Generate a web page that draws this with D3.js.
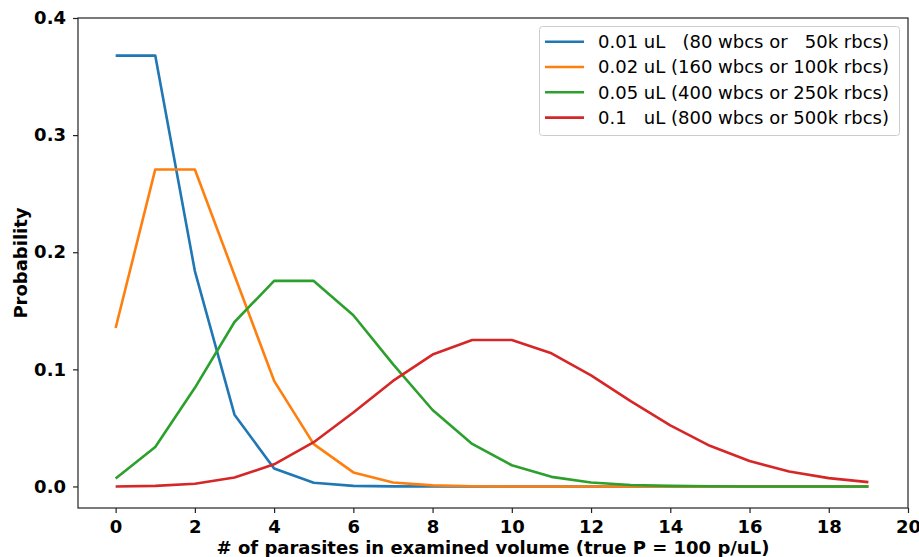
<!DOCTYPE html>
<html><head><meta charset="utf-8">
<script src="https://cdn.jsdelivr.net/npm/d3@7"></script>
<style>
html,body{margin:0;padding:0;background:#fff;}
svg text{font-family:"DejaVu Sans",sans-serif;}
</style></head>
<body><svg id="chart" width="919" height="557"></svg>
<script>
const xValues = [0,1,2,3,4,5,6,7,8,9,10,11,12,13,14,15,16,17,18,19];
const seriesNames = [
  "0.01 uL   (80 wbcs or   50k rbcs)",
  "0.02 uL (160 wbcs or 100k rbcs)",
  "0.05 uL (400 wbcs or 250k rbcs)",
  "0.1   uL (800 wbcs or 500k rbcs)"
];
const vol001 = [0.3679,0.3679,0.1839,0.0613,0.0153,0.0031,0.0005,0.0001,0,0,0,0,0,0,0,0,0,0,0,0];
const vol002 = [0.1353,0.2707,0.2707,0.1804,0.0902,0.0361,0.0120,0.0034,0.0009,0.0002,0,0,0,0,0,0,0,0,0,0];
const vol005 = [0.0067,0.0337,0.0842,0.1404,0.1755,0.1755,0.1462,0.1044,0.0653,0.0363,0.0181,0.0082,0.0034,0.0013,0.0005,0.0002,0,0,0,0];
const vol01  = [0.0000,0.0005,0.0023,0.0076,0.0189,0.0378,0.0631,0.0901,0.1126,0.1251,0.1251,0.1137,0.0948,0.0729,0.0521,0.0347,0.0217,0.0128,0.0071,0.0037];
const colors = ["#1f77b4","#ff7f0e","#2ca02c","#d62728"];
const xTicks = [0,2,4,6,8,10,12,14,16,18,20];
const yTicks = [0.0,0.1,0.2,0.3,0.4];
const xLabel = "# of parasites in examined volume (true P = 100 p/uL)";
const yLabel = "Probability";

const series = [vol001, vol002, vol005, vol01];
const L = 78, R = 908, T = 18, B = 508;
const FS = 18;
const svg = d3.select("#chart");
const x = d3.scaleLinear().domain([-0.95, 20]).range([L, R]);
const y = d3.scaleLinear().domain([-0.0184, 0.4]).range([B, T]);

const xAxis = svg.append("g").attr("transform",`translate(0,${B})`)
  .call(d3.axisBottom(x).tickValues(xTicks).tickFormat(d3.format("d")).tickSize(5).tickPadding(7));
const yAxis = svg.append("g").attr("transform",`translate(${L},0)`)
  .call(d3.axisLeft(y).tickValues(yTicks).tickFormat(d3.format(".1f")).tickSize(5).tickPadding(7));
[xAxis,yAxis].forEach(a=>{
  a.select(".domain").remove();
  a.selectAll("line").attr("stroke","#222").attr("stroke-width",1.2);
  a.selectAll("text").attr("font-size",FS).attr("font-weight","bold").attr("fill","#000")
    .style("font-family","'DejaVu Sans',sans-serif");
});

const line = d3.line().x((d,i)=>x(xValues[i])).y(d=>y(d));
series.forEach((s,k)=>{
  svg.append("path").datum(s).attr("d",line).attr("fill","none")
    .attr("stroke",colors[k]).attr("stroke-width",2.6).attr("stroke-linejoin","round");
});

svg.append("rect").attr("x",L).attr("y",T).attr("width",R-L).attr("height",B-T)
  .attr("fill","none").attr("stroke","#222").attr("stroke-width",1.2);

svg.append("text").attr("x",(L+R)/2).attr("y",553.5).attr("text-anchor","middle")
  .attr("font-size",FS).attr("font-weight","bold").text(xLabel);
svg.append("text").attr("transform",`translate(27,${(T+B)/2}) rotate(-90)`).attr("text-anchor","middle")
  .attr("font-size",FS).attr("font-weight","bold").text(yLabel);

// legend
const lg = svg.append("g");
lg.append("rect").attr("x",539.5).attr("y",26.5).attr("width",360).attr("height",109).attr("rx",3)
  .attr("fill","#fff").attr("fill-opacity",0.8).attr("stroke","#ccc").attr("stroke-width",1);
seriesNames.forEach((n,k)=>{
  const yy = 41.7 + k*25.3;
  lg.append("line").attr("x1",545).attr("x2",584).attr("y1",yy).attr("y2",yy)
    .attr("stroke",colors[k]).attr("stroke-width",2.6);
  lg.append("text").attr("x",598).attr("y",yy+6.2).attr("font-size",FS).attr("fill","#000")
    .attr("xml:space","preserve").style("white-space","pre").text(n);
});
</script></body></html>
